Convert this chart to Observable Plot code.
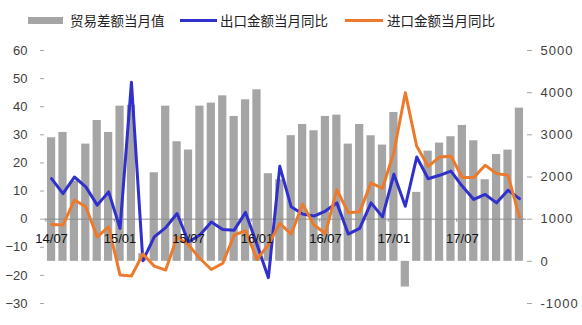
<!DOCTYPE html>
<html><head><meta charset="utf-8">
<script src="https://cdn.jsdelivr.net/npm/d3@7"></script>
<script src="https://cdn.jsdelivr.net/npm/@observablehq/plot@0.6"></script>
<style>
body{margin:0;background:#fff;}
#wrap{position:relative;width:582px;height:325px;overflow:hidden;}
.lg{position:absolute;font-family:"Noto Sans CJK SC","Noto Sans",sans-serif;font-size:13.5px;color:#222;line-height:16px;white-space:nowrap;}
.sw{position:absolute;}
</style></head>
<body><div id="wrap"></div>
<script>
const months = ["14/07","14/08","14/09","14/10","14/11","14/12",
"15/01","15/02","15/03","15/04","15/05","15/06","15/07","15/08","15/09","15/10","15/11","15/12",
"16/01","16/02","16/03","16/04","16/05","16/06","16/07","16/08","16/09","16/10","16/11","16/12",
"17/01","17/02","17/03","17/04","17/05","17/06","17/07","17/08","17/09","17/10","17/11","17/12"];
const balance = [2930,3057,1900,2780,3340,3057,3680,3700,180,2100,3680,2836,2640,3680,3752,3925,3436,3830,4068,2078,1935,2980,3246,3096,3436,3467,2780,3246,2978,2757,3531,-609,1635,2614,2804,2955,3222,2860,1935,2535,2638,3633];
const exportYoY = [14.4,9.1,15.0,11.5,5.0,9.7,-3.3,48.7,-14.8,-6.3,-3.0,2.0,-8.1,-5.6,-1.0,-3.7,-3.9,2.4,-9.0,-20.8,18.8,4.4,1.8,1.1,2.9,5.8,-5.3,-3.3,5.8,0.8,16.0,4.6,22.1,14.4,15.6,17.1,11.7,7.0,8.8,5.8,10.3,7.3];
const importYoY = [-1.9,-2.1,6.8,4.4,-6.3,-2.7,-19.9,-20.2,-12.4,-16.7,-18.1,-6.3,-9.2,-14.0,-17.9,-15.7,-5.7,-4.1,-14.3,-9.2,-1.5,-5.3,5.3,-2.1,-5.1,10.5,2.3,2.6,12.9,10.9,23.9,45.0,25.9,18.8,22.1,22.4,14.8,14.8,19.2,16.2,15.6,0.8];
const xTickLabels = ["14/07","15/01","15/07","16/01","16/07","17/01","17/07"];
const leftTicks = [-30,-20,-10,0,10,20,30,40,50,60];
const rightTicks = [-1000,0,1000,2000,3000,4000,5000];
const seriesNames = ["贸易差额当月值","出口金额当月同比","进口金额当月同比"];

// right axis (-1000..5000) mapped onto left scale (-30..60)
const toLeft = v => -15 + v * 0.015;
const fromLeft = y => String(Math.round((y + 15) / 0.015));

const data = months.map((m, i) => ({m, bal: balance[i], exp: exportYoY[i], imp: importYoY[i]}));

const chart = Plot.plot({
  width: 582, height: 325,
  marginTop: 50, marginBottom: 22, marginLeft: 44, marginRight: 56,
  style: {fontFamily: "'Liberation Sans', Arial, sans-serif", fontSize: "13px", background: "white", color: "#404040"},
  x: {type: "band", domain: months, paddingInner: 0.28, paddingOuter: 0.26, round: false, axis: null},
  y: {domain: [-30, 60], axis: null},
  marks: [
    Plot.barY(data, {x: "m", y1: () => toLeft(0), y2: d => toLeft(d.bal), fill: "#a5a5a5"}),
    Plot.ruleY([0], {stroke: "#8c8c8c", strokeWidth: 1}),
    Plot.ruleX(xTickLabels, {x: d => d, y1: 0, y2: -1.1, dx: -5.7, stroke: "#8c8c8c"}),
    Plot.line(data, {x: "m", y: "exp", stroke: "#3030cc", strokeWidth: 3}),
    Plot.line(data, {x: "m", y: "imp", stroke: "#ec7a2c", strokeWidth: 3}),
    Plot.text(xTickLabels, {x: d => d, y: 0, dy: 20, text: d => d, fontSize: 13, fill: "#111"}),
    Plot.axisY({anchor: "left", ticks: leftTicks, tickSize: 4, tickPadding: 13, label: null, line: true, stroke: "#a6a6a6", fill: "#404040", fontSize: 13}),
    Plot.axisY({anchor: "right", ticks: rightTicks.map(toLeft), tickFormat: fromLeft, tickSize: 5, tickPadding: 9, label: null, line: true, stroke: "#a6a6a6", fill: "#404040", fontSize: 13})
  ]
});
const wrap = document.getElementById("wrap");
wrap.appendChild(chart);
// widen right-axis digits slightly, as in the reference
const labelGroups = chart.querySelectorAll('g[aria-label="y-axis tick label"]');
if (labelGroups.length > 1) labelGroups[labelGroups.length - 1].setAttribute("style", "letter-spacing:1px");

// legend
const legend = [
  {sx: 28, sw: 35, sh: 7, color: "#a5a5a5", tx: 70, name: seriesNames[0]},
  {sx: 180, sw: 37, sh: 3, color: "#3030cc", tx: 220, name: seriesNames[1]},
  {sx: 345, sw: 38, sh: 3, color: "#ec7a2c", tx: 387, name: seriesNames[2]}
];
for (const l of legend) {
  const s = document.createElement("div");
  s.className = "sw";
  s.style.cssText = `left:${l.sx}px;top:${20 - l.sh/2}px;width:${l.sw}px;height:${l.sh}px;background:${l.color}`;
  wrap.appendChild(s);
  const t = document.createElement("div");
  t.className = "lg";
  t.style.cssText = `left:${l.tx}px;top:12px`;
  t.textContent = l.name;
  wrap.appendChild(t);
}
</script></body></html>
